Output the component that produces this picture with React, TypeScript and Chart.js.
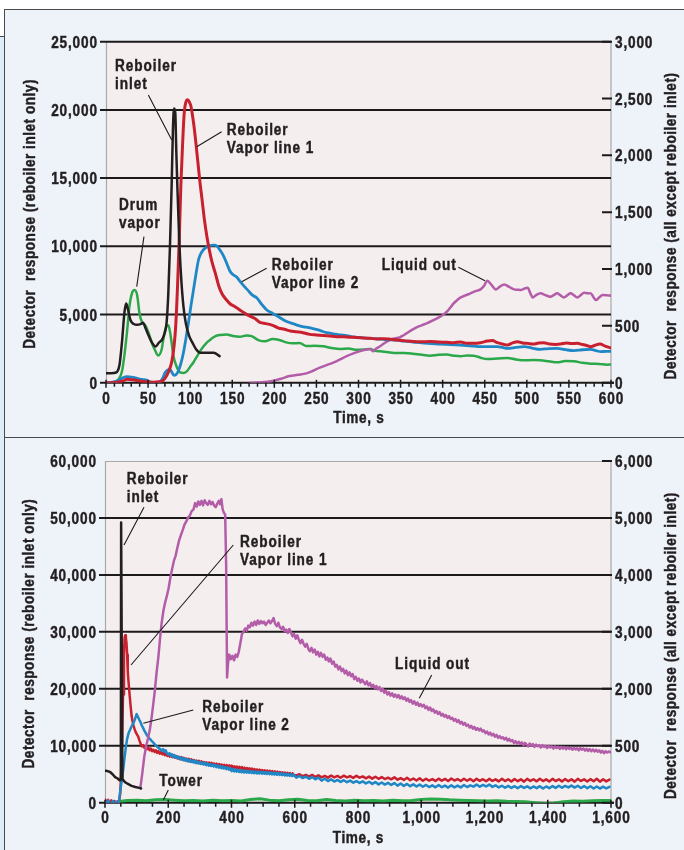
import React, { useEffect, useRef } from 'react';
import { Chart, registerables } from 'chart.js';

Chart.register(...registerables);

const FONT = "'Liberation Sans', Arial, sans-serif";
const SQUEEZE = 0.85; // horizontal compression to mimic a condensed bold face
const INK = '#231f20';
const PAGE_BG = '#eef3fa';
const PLOT_BG = '#f5eeee';
const C_BLACK = '#231f20';
const C_RED = '#c8202e';
const C_BLUE = '#1f87c6';
const C_GREEN = '#2ba84a';
const C_MAGENTA = '#b35ca8';

type Pt = [number, number];

// ---------------- Top panel data (time s, response) ----------------
// Reboiler inlet: left axis units
const topInlet: Pt[] = [
  [0, 700], [6, 700], [12, 750], [16, 1300], [19, 3000], [22, 5200], [24, 5800], [26, 5400], [29, 4600],
  [33, 4300], [37, 4250], [41, 4300], [44, 4400], [47, 4000], [51, 3400], [55, 2900], [59, 2650], [63, 2950],
  [67, 3200], [70, 3700], [72, 4400], [74, 6500], [76, 10000], [78, 14500], [79.5, 18500], [80.8, 20100],
  [82.3, 19800], [83.5, 17000], [85, 14000], [87, 10500], [89, 8000], [92, 5600], [95, 4300], [99, 3400],
  [103, 2900], [107, 2450], [112, 2200], [120, 2200], [128, 2200], [135, 1950],
];
// Other series: right axis units
const topDrum: Pt[] = [
  [0, 0], [9, 5], [15, 30], [19, 100], [22, 250], [25, 450], [28, 680], [31, 790], [34, 815], [37, 770],
  [40, 600], [43, 530], [47, 500], [51, 430], [55, 340], [58, 290], [62, 240], [66, 290], [69, 420], [72, 500],
  [74, 505], [76, 450], [78, 350], [80, 240], [84, 140], [88, 90], [92, 85], [96, 100], [100, 140], [104, 180],
  [108, 230], [112, 280], [116, 320], [120, 355], [125, 385], [130, 410], [136, 420], [143, 425], [151, 410],
  [159, 405], [167, 415], [173, 410], [181, 375], [189, 364], [198, 384], [206, 375], [214, 355], [222, 347],
  [230, 349], [238, 322], [248, 325], [258, 320], [268, 305], [278, 296], [288, 300], [298, 290], [306, 292],
  [314, 296], [320, 280], [326, 276], [335, 268], [345, 261], [355, 262], [365, 255], [375, 245], [385, 238],
  [395, 245], [405, 247], [413, 238], [421, 232], [429, 240], [437, 238], [445, 220], [453, 208], [465, 212],
  [477, 217], [487, 205], [497, 197], [507, 200], [516, 197], [526, 188], [536, 179], [546, 190], [556, 188],
  [566, 175], [576, 167], [586, 165], [595, 158], [600, 160],
];
const topVapor1: Pt[] = [
  [0, 0], [10, 2], [20, 15], [25, 30], [32, 25], [40, 15], [48, 8], [56, 5], [63, 8], [68, 20], [72, 60],
  [75, 110], [78, 180], [81, 330], [83, 520], [85, 850], [87, 1260], [89, 1750], [91, 2100], [93, 2380],
  [95, 2470], [97, 2490], [99, 2470], [101, 2430], [103, 2340], [105, 2230], [107.5, 2060], [110, 1880],
  [112, 1740], [114, 1620], [117, 1430], [120, 1280], [123, 1160], [126, 1060], [130, 960], [134, 850],
  [138, 780], [143, 730], [148, 690], [153, 670], [159, 640], [165, 610], [171, 585], [177, 565], [183, 530],
  [190, 520], [198, 505], [205, 480], [212, 470], [219, 455], [226, 448], [234, 440], [242, 425], [250, 420],
  [258, 415], [266, 410], [274, 405], [282, 405], [290, 400], [298, 398], [306, 393], [314, 390], [322, 385],
  [330, 387], [338, 382], [346, 375], [356, 368], [365, 362], [375, 360], [385, 362], [395, 358], [405, 355],
  [413, 352], [421, 358], [429, 346], [437, 346], [445, 352], [453, 366], [459, 372], [465, 352], [471, 340],
  [477, 331], [483, 350], [489, 361], [495, 350], [501, 346], [508, 340], [514, 350], [520, 352], [527, 340],
  [534, 337], [540, 340], [547, 350], [553, 344], [560, 346], [566, 336], [572, 325], [576, 317], [581, 330],
  [587, 340], [593, 322], [600, 305],
];
const topVapor2: Pt[] = [
  [0, 0], [8, 5], [13, 15], [18, 35], [24, 53], [28, 52], [32, 47], [36, 40], [40, 32], [44, 28], [48, 23],
  [51, 10], [54, 2], [60, 3], [64, 8], [67, 35], [70, 85], [73, 110], [76, 117], [78, 95], [80.8, 64], [83, 70],
  [86, 103], [89, 170], [92, 264], [95, 390], [98, 530], [101, 680], [104, 820], [107, 960], [110, 1084],
  [113, 1140], [116, 1172], [120, 1195], [124, 1207], [128, 1210], [132, 1200], [136, 1160], [140, 1110],
  [144, 1040], [147, 985], [151, 950], [155, 932], [159, 894], [164, 850], [169, 810], [174, 770], [179, 747],
  [185, 690], [191, 640], [198, 610], [205, 580], [214, 540], [222, 520], [230, 500], [238, 488], [246, 475],
  [254, 460], [262, 440], [270, 430], [278, 420], [286, 415], [294, 402], [302, 398], [310, 392], [318, 388],
  [326, 384], [335, 378], [345, 374], [355, 365], [365, 358], [375, 350], [387, 345], [397, 340], [409, 336],
  [421, 331], [433, 325], [445, 317], [455, 318], [465, 317], [471, 310], [477, 302], [487, 310], [497, 317],
  [506, 305], [516, 293], [526, 300], [536, 302], [546, 290], [556, 282], [566, 290], [576, 293], [582, 283],
  [588, 273], [594, 276], [600, 275],
];
const topLiquid: Pt[] = [
  [171, 0], [185, 3], [198, 15], [208, 35], [218, 59], [228, 70], [238, 82], [246, 105], [254, 132], [262, 155],
  [270, 176], [278, 205], [286, 234], [294, 258], [302, 278], [308, 290], [313.7, 296], [317.7, 276], [321, 300],
  [325.6, 320], [331, 350], [337.5, 378], [343, 390], [349, 399], [353, 415], [357, 434], [363, 462], [369, 487],
  [375, 505], [381, 522], [389, 550], [397, 581], [401, 600], [405, 625], [409, 660], [413, 698], [417, 725],
  [421, 748], [427, 768], [433, 786], [439, 805], [445, 821], [449, 850], [453, 897], [458, 860], [463, 821],
  [468, 845], [473, 865], [479, 843], [485, 821], [489, 818], [493, 815], [497, 828], [501, 835], [504, 790],
  [507, 750], [511, 770], [516, 786], [522, 771], [528, 756], [532, 771], [536, 786], [540, 768], [544, 750],
  [548, 768], [552, 786], [556, 768], [560, 750], [564, 770], [568, 791], [572, 788], [576, 786], [579, 755],
  [582, 727], [586, 750], [590, 771], [595, 770], [600, 765],
];

// ---------------- Bottom panel data ----------------
const botInlet: Pt[] = [
  [0, 5600], [8, 5550], [16, 5400], [24, 5000], [32, 4500], [40, 4250], [46, 3950], [50, 4000], [51, 49200],
  [53, 49200], [55, 4200], [60, 3800], [66, 3500], [74, 3250], [84, 2950], [96, 2750], [108, 2600], [114, 2500],
];
const botVapor1: Pt[] = [
  [0, 60], [5, 10], [10, 50], [15, -20], [20, 40], [25, 0], [30, 30], [35, -30], [40, 20], [45, 40], [48, 150],
  [51, 500], [54, 1100], [57, 1900], [60, 2600], [62, 2900], [64, 2940], [66, 2900], [68, 2800], [70, 2600],
  [72, 2300], [75, 2080], [78, 1880], [81, 1700], [84, 1530], [87, 1430], [90, 1360], [93, 1300], [97, 1240],
  [101, 1200], [105, 1160], [109, 1090], [113, 1030], [117, 990], [121, 1010], [125, 960], [129, 990], [133, 940],
  [137, 970], [141, 920], [145, 950], [149, 905], [153, 930], [157, 890], [161, 920], [165, 875], [169, 905],
  [173, 860], [177, 895], [181, 850], [185, 880], [189, 835], [193, 865], [197, 820], [201, 850], [205, 810],
  [209, 845], [213, 800], [217, 830], [221, 790], [225, 820], [229, 775], [233, 805], [237, 765], [241, 800],
  [245, 755], [249, 790], [253, 745], [257, 775], [261, 735], [265, 770], [269, 725], [273, 760], [277, 720],
  [281, 750], [285, 710], [289, 740], [293, 700], [297, 735], [301, 690], [305, 725], [309, 685], [313, 715],
  [317, 680], [321, 710], [325, 670], [329, 705], [333, 665], [337, 700], [341, 660], [345, 690], [349, 650],
  [353, 685], [357, 645], [361, 680], [365, 640], [369, 670], [373, 635], [377, 665], [381, 625], [385, 660],
  [389, 620], [393, 655], [397, 615], [401, 650], [405, 610], [409, 640], [413, 605], [417, 635], [421, 595],
  [425, 630], [429, 590], [433, 625], [437, 585], [441, 615], [445, 580], [449, 610], [453, 570], [457, 605],
  [461, 565], [465, 600], [469, 560], [473, 590], [477, 555], [481, 585], [485, 550], [489, 580], [493, 545],
  [497, 575], [501, 540], [505, 570], [509, 535], [513, 565], [517, 530], [521, 560], [525, 525], [529, 555],
  [533, 520], [537, 550], [541, 515], [545, 545], [549, 510], [553, 540], [557, 505], [561, 535], [565, 500],
  [569, 530], [573, 495], [577, 525], [581, 490], [585, 520], [589, 485], [593, 515], [597, 480], [605, 480],
  [615, 500], [625, 468], [635, 490], [645, 460], [655, 488], [665, 452], [675, 480], [685, 445], [695, 470],
  [705, 440], [715, 478], [725, 446], [735, 470], [745, 438], [755, 475], [765, 444], [775, 468], [785, 436],
  [795, 472], [805, 440], [815, 462], [825, 428], [835, 458], [845, 422], [855, 455], [865, 420], [875, 450],
  [885, 415], [895, 440], [905, 410], [915, 445], [925, 405], [935, 432], [945, 400], [955, 438], [965, 396],
  [975, 425], [985, 390], [995, 428], [1005, 385], [1015, 420], [1025, 388], [1035, 415], [1045, 382],
  [1055, 422], [1065, 386], [1075, 418], [1085, 380], [1095, 425], [1105, 390], [1115, 415], [1125, 380],
  [1135, 420], [1145, 385], [1155, 418], [1165, 378], [1175, 420], [1185, 384], [1195, 412], [1205, 376],
  [1215, 418], [1225, 382], [1235, 410], [1245, 374], [1255, 420], [1265, 380], [1275, 412], [1285, 372],
  [1295, 415], [1305, 378], [1315, 410], [1325, 370], [1335, 418], [1345, 382], [1355, 412], [1365, 375],
  [1375, 420], [1385, 380], [1395, 410], [1405, 372], [1415, 418], [1425, 380], [1435, 412], [1445, 374],
  [1455, 416], [1465, 378], [1475, 410], [1485, 370], [1495, 418], [1505, 382], [1515, 410], [1525, 372],
  [1535, 414], [1545, 376], [1555, 420], [1565, 370], [1575, 412], [1585, 374], [1595, 405],
];
const botVapor2: Pt[] = [
  [0, 20], [5, -30], [10, 40], [15, -10], [20, -40], [25, 30], [30, -50], [35, 20], [40, -40], [44, 10], [47, 150],
  [50, 280], [54, 420], [58, 600], [62, 800], [66, 980], [70, 1120], [75, 1230], [80, 1290], [85, 1350],
  [90, 1400], [95, 1470], [100, 1556], [104, 1510], [108, 1460], [112, 1420], [116, 1360], [120, 1320],
  [124, 1270], [128, 1230], [132, 1190], [136, 1160], [140, 1130], [144, 1110], [148, 1080], [152, 1060],
  [156, 1030], [160, 1010], [164, 990], [168, 965], [172, 950], [176, 935], [180, 910], [184, 940], [188, 895],
  [192, 920], [196, 860], [200, 845], [204, 870], [208, 825], [212, 850], [216, 805], [220, 835], [224, 790],
  [228, 815], [232, 775], [236, 800], [240, 760], [244, 790], [248, 745], [252, 775], [256, 735], [260, 765],
  [264, 725], [268, 755], [272, 715], [276, 745], [280, 705], [284, 735], [288, 695], [292, 725], [296, 690],
  [300, 715], [304, 680], [308, 705], [312, 670], [316, 700], [320, 660], [324, 690], [328, 650], [332, 680],
  [336, 645], [340, 670], [344, 635], [348, 665], [352, 625], [356, 655], [360, 615], [364, 645], [368, 605],
  [372, 635], [376, 600], [380, 625], [384, 590], [388, 620], [392, 580], [396, 610], [400, 555], [404, 590],
  [408, 550], [412, 585], [416, 545], [420, 578], [424, 540], [428, 572], [432, 535], [436, 566], [440, 530],
  [444, 562], [448, 528], [452, 558], [456, 525], [460, 556], [464, 522], [468, 552], [472, 518], [476, 548],
  [480, 515], [484, 546], [488, 512], [492, 542], [496, 510], [500, 540], [504, 508], [508, 538], [512, 505],
  [516, 535], [520, 502], [524, 532], [528, 498], [532, 528], [536, 495], [540, 525], [544, 492], [548, 520],
  [552, 488], [556, 518], [560, 485], [564, 512], [568, 480], [572, 508], [576, 476], [580, 505], [584, 472],
  [588, 500], [592, 468], [596, 496], [605, 440], [615, 470], [625, 432], [635, 458], [645, 420], [655, 450],
  [665, 410], [675, 440], [685, 388], [695, 420], [705, 380], [715, 410], [725, 372], [735, 400], [745, 365],
  [755, 395], [765, 360], [775, 388], [785, 352], [795, 380], [805, 348], [815, 375], [825, 338], [835, 368],
  [845, 330], [855, 362], [865, 322], [875, 355], [885, 318], [895, 348], [905, 312], [915, 345], [925, 300],
  [935, 338], [945, 295], [955, 330], [965, 290], [975, 322], [985, 285], [995, 318], [1005, 280], [1015, 312],
  [1025, 275], [1035, 305], [1045, 270], [1055, 310], [1065, 272], [1075, 300], [1085, 265], [1095, 305],
  [1105, 270], [1115, 300], [1125, 268], [1135, 312], [1145, 275], [1155, 305], [1165, 282], [1175, 318],
  [1185, 280], [1195, 312], [1205, 285], [1215, 318], [1225, 278], [1235, 305], [1245, 268], [1255, 298],
  [1265, 262], [1275, 295], [1285, 258], [1295, 290], [1305, 255], [1315, 292], [1325, 260], [1335, 288],
  [1345, 252], [1355, 285], [1365, 256], [1375, 290], [1385, 250], [1395, 285], [1405, 255], [1415, 292],
  [1425, 260], [1435, 298], [1445, 262], [1455, 295], [1465, 268], [1475, 300], [1485, 265], [1495, 298],
  [1505, 258], [1515, 292], [1525, 255], [1535, 288], [1545, 250], [1555, 285], [1565, 248], [1575, 282],
  [1585, 250], [1595, 278],
];
const botLiquid: Pt[] = [
  [112, 270], [118, 520], [124, 800], [130, 990], [136, 1130], [142, 1290], [147, 1480], [152, 1700], [158, 1990],
  [163, 2280], [169, 2570], [174, 2880], [179, 3150], [185, 3380], [190, 3510], [196, 3640], [201, 3760],
  [207, 3960], [212, 4100], [218, 4250], [223, 4330], [229, 4480], [234, 4600], [240, 4700], [246, 4790],
  [251, 4880], [257, 4940], [263, 5010], [268, 5040], [274, 5120], [280, 5150], [285, 5260], [290, 5200],
  [295, 5290], [300, 5230], [305, 5300], [310, 5220], [315, 5310], [320, 5260], [325, 5230], [330, 5300],
  [335, 5240], [340, 5280], [345, 5220], [350, 5190], [355, 5250], [360, 5300], [364, 5240], [368, 5330],
  [372, 5150], [376, 5090], [380, 5060], [383, 4200], [386, 2200], [389, 2450], [393, 2600], [398, 2520],
  [403, 2580], [408, 2500], [413, 2600], [418, 2560], [423, 2650], [428, 2800], [433, 2960], [438, 3000],
  [443, 3060], [448, 3020], [453, 3110], [458, 3080], [463, 3160], [468, 3110], [473, 3180], [478, 3120],
  [483, 3200], [488, 3140], [493, 3190], [498, 3150], [503, 3180], [508, 3120], [513, 3160], [518, 3200],
  [523, 3150], [528, 3190], [533, 3240], [538, 3140], [543, 3100], [548, 3160], [553, 3080], [558, 3050],
  [563, 3090], [568, 3010], [573, 3040], [578, 2980], [583, 3050], [588, 2990], [593, 2920], [598, 2960],
  [603, 2880], [608, 2940], [613, 2860], [618, 2800], [623, 2860], [628, 2790], [633, 2740], [638, 2790],
  [643, 2700], [648, 2660], [653, 2720], [658, 2640], [663, 2690], [668, 2600], [673, 2650], [678, 2570],
  [683, 2630], [688, 2560], [693, 2600], [698, 2510], [703, 2550], [708, 2480], [713, 2530], [718, 2440],
  [723, 2480], [728, 2390], [733, 2420], [738, 2340], [743, 2390], [748, 2310], [753, 2350], [758, 2270],
  [763, 2320], [768, 2240], [773, 2290], [778, 2220], [783, 2260], [788, 2170], [793, 2210], [798, 2140],
  [803, 2180], [808, 2110], [813, 2160], [818, 2120], [823, 2080], [828, 2130], [833, 2060], [838, 2100],
  [843, 2030], [848, 2070], [853, 2010], [858, 2050], [863, 1990], [868, 2030], [873, 1960], [878, 2000],
  [883, 1930], [888, 1970], [893, 1900], [898, 1940], [903, 1880], [908, 1920], [913, 1860], [918, 1900],
  [923, 1850], [928, 1890], [933, 1830], [938, 1870], [943, 1820], [948, 1850], [953, 1790], [958, 1830],
  [963, 1770], [968, 1800], [973, 1740], [978, 1780], [983, 1720], [988, 1760], [993, 1700], [998, 1730],
  [1003, 1690], [1008, 1720], [1013, 1660], [1018, 1690], [1023, 1630], [1028, 1670], [1033, 1610], [1038, 1640],
  [1043, 1580], [1048, 1610], [1053, 1560], [1058, 1590], [1063, 1530], [1068, 1560], [1073, 1510], [1078, 1540],
  [1083, 1490], [1088, 1520], [1093, 1470], [1098, 1490], [1103, 1440], [1108, 1470], [1113, 1420], [1118, 1450],
  [1123, 1390], [1128, 1420], [1133, 1370], [1138, 1400], [1143, 1350], [1148, 1370], [1153, 1320], [1158, 1350],
  [1163, 1300], [1168, 1330], [1173, 1280], [1178, 1310], [1183, 1270], [1188, 1300], [1193, 1250], [1198, 1270],
  [1203, 1220], [1208, 1250], [1213, 1200], [1218, 1230], [1223, 1180], [1228, 1210], [1233, 1160], [1238, 1190],
  [1243, 1140], [1248, 1170], [1253, 1130], [1258, 1150], [1263, 1110], [1268, 1140], [1273, 1090], [1278, 1120],
  [1283, 1080], [1288, 1100], [1293, 1050], [1298, 1080], [1303, 1040], [1308, 1070], [1313, 1030], [1318, 1060],
  [1323, 1010], [1328, 1050], [1333, 1020], [1338, 990], [1343, 1040], [1348, 1000], [1353, 1030], [1358, 980],
  [1363, 1020], [1368, 990], [1373, 1010], [1378, 970], [1383, 1010], [1388, 980], [1393, 1000], [1398, 960],
  [1403, 1000], [1408, 970], [1413, 990], [1418, 950], [1423, 990], [1428, 960], [1433, 985], [1438, 945],
  [1443, 980], [1448, 950], [1453, 975], [1458, 940], [1463, 970], [1468, 945], [1473, 965], [1478, 930],
  [1483, 965], [1488, 935], [1493, 955], [1498, 920], [1503, 960], [1508, 930], [1513, 950], [1518, 915],
  [1523, 945], [1528, 910], [1533, 940], [1538, 905], [1543, 935], [1548, 900], [1553, 930], [1558, 895],
  [1563, 920], [1568, 880], [1573, 910], [1578, 870], [1583, 905], [1588, 880], [1593, 900], [1598, 885],
];
const botTower: Pt[] = [
  [45, 20], [70, 40], [100, 45], [130, 35], [160, 50], [190, 55], [220, 45], [250, 35], [280, 40], [310, 30],
  [340, 45], [370, 35], [400, 40], [430, 30], [460, 55], [490, 70], [520, 45], [550, 35], [580, 50], [610, 60],
  [640, 40], [670, 35], [700, 55], [730, 40], [760, 30], [790, 45], [820, 35], [850, 40], [880, 30], [910, 45],
  [940, 35], [970, 40], [1000, 55], [1030, 65], [1060, 60], [1090, 50], [1120, 45], [1150, 40], [1180, 35],
  [1210, 30], [1240, 35], [1270, 25], [1300, 20], [1330, 15], [1360, 0], [1390, -15], [1420, -5], [1450, 15],
  [1480, 30], [1510, 25], [1540, 35], [1570, 40], [1600, 40],
];

// ---------------- Axis ticks ----------------
const topXTickValues = [0, 50, 100, 150, 200, 250, 300, 350, 400, 450, 500, 550, 600];
const topLeftTickValues = [0, 5000, 10000, 15000, 20000, 25000];
const topLeftGrid = [5000, 10000, 15000, 20000, 25000];
const topRightTickValues = [0, 500, 1000, 1500, 2000, 2500, 3000];
const botXTickValues = [0, 200, 400, 600, 800, 1000, 1200, 1400, 1600];
const botLeftTickValues = [0, 10000, 20000, 30000, 40000, 50000, 60000];
const botLeftGrid = [10000, 20000, 30000, 40000, 50000];
const botRightTickValues = [0, 1000, 2000, 3000, 4000, 5000, 6000];
const botRightTickLabels = ['0', '500', '2,000', '3,000', '4,000', '5,000', '6,000'];

type Note = { lines: string[]; t: number; v: number; from: Pt; to: Pt };
const topNotes: Note[] = [
  { lines: ['Reboiler', 'inlet'], t: 10.7, v: 22874, from: [50.3, 21093], to: [78.1, 17794] },
  { lines: ['Reboiler', 'Vapor line 1'], t: 143.4, v: 18160, from: [137.4, 18402], to: [107.8, 17302] },
  { lines: ['Drum', 'vapor'], t: 15.4, v: 12661, from: [45.1, 10704], to: [36.5, 7038] },
  { lines: ['Reboiler', 'Vapor line 2'], t: 196.9, v: 8263, from: [190.9, 8387], to: [161.2, 7405] },
  { lines: ['Liquid out'], t: 327.5, v: 8263, from: [418.6, 8460], to: [450.3, 7478] },
];
const botNotes: Note[] = [
  { lines: ['Reboiler', 'inlet'], t: 68.6, v: 55962, from: [123.3, 51870], to: [60.1, 45250] },
  { lines: ['Reboiler', 'Vapor line 1'], t: 426.9, v: 44952, from: [405.7, 45250], to: [82.2, 24179] },
  { lines: ['Reboiler', 'Vapor line 2'], t: 307.7, v: 15979, from: [279.2, 16277], to: [121.1, 13942] },
  { lines: ['Tower'], t: 171.7, v: 2932, from: [200.2, 2230], to: [184.4, 474] },
  { lines: ['Liquid out'], t: 917, v: 23424, from: [1033, 22423], to: [993.8, 18332] },
];

const LEFT_TITLE = 'Detector  response (reboiler inlet only)';
const RIGHT_TITLE = 'Detector  response (all except reboiler inlet)';
const X_TITLE = 'Time, s';

type Series = { label: string; points: Pt[]; color: string; width: number; axis: 'y' | 'y1' };
type Panel = {
  series: Series[];
  smooth: boolean;
  xMax: number; xStep: number; xMinor: number; xTicks: number[];
  leftMax: number; leftTicks: number[]; rightMax: number;
  leftGrid: number[]; rightTicks: number[]; rightLabels?: string[];
  notes: Note[];
  padTop: number; leftW: number; rightW: number; xH: number; xLabelDrop: number;
  topBorder: boolean;
};

const fmt = (v: number) => Number(v).toLocaleString('en-US');

function squeezedText(ctx: CanvasRenderingContext2D, s: string, x: number, y: number, align: CanvasTextAlign, spacing: number) {
  ctx.save();
  ctx.translate(x, y);
  ctx.scale(SQUEEZE, 1);
  ctx.letterSpacing = `${spacing}px`;
  ctx.textAlign = align;
  const shift = align === 'right' ? spacing : align === 'center' ? spacing / 2 : 0;
  ctx.fillText(s, shift, 0);
  ctx.lineWidth = 0.45;
  ctx.strokeStyle = INK;
  ctx.strokeText(s, shift, 0);
  ctx.restore();
}

function panelPlugin(p: Panel) {
  return {
    id: 'panelDecor',
    beforeDraw(chart: any) {
      const { ctx, chartArea: a } = chart;
      ctx.save();
      ctx.fillStyle = PLOT_BG;
      ctx.fillRect(a.left, a.top, a.right - a.left, a.bottom - a.top);
      ctx.restore();
    },
    beforeDatasetsDraw(chart: any) {
      const { ctx, chartArea: a } = chart;
      const y = chart.scales.y;
      ctx.save();
      ctx.strokeStyle = '#a9a9ab';
      ctx.lineWidth = 1.2;
      ctx.beginPath();
      ctx.moveTo(a.left + 0.5, a.top); ctx.lineTo(a.left + 0.5, a.bottom);
      ctx.moveTo(a.right, a.top); ctx.lineTo(a.right, a.bottom);
      if (p.topBorder) { ctx.moveTo(a.left, a.top + 0.5); ctx.lineTo(a.right, a.top + 0.5); }
      ctx.stroke();
      ctx.strokeStyle = '#1c1a1b';
      ctx.lineWidth = 2;
      ctx.beginPath();
      for (const v of p.leftGrid) {
        const py = y.getPixelForValue(v);
        ctx.moveTo(a.left - 6, py); ctx.lineTo(a.right, py);
      }
      const y0 = y.getPixelForValue(0);
      ctx.moveTo(a.left - 6, y0); ctx.lineTo(a.right + 3, y0);
      ctx.stroke();
      ctx.restore();
    },
    afterDraw(chart: any) {
      const { ctx, chartArea: a } = chart;
      const x = chart.scales.x, y = chart.scales.y, y1 = chart.scales.y1;
      const y0 = y.getPixelForValue(0);
      ctx.save();
      ctx.strokeStyle = '#1c1a1b';
      ctx.lineWidth = 1.5;
      ctx.beginPath();
      for (let t = 0; t <= p.xMax + 0.001; t += p.xMinor) {
        const px = x.getPixelForValue(t);
        const major = Math.abs(t / p.xStep - Math.round(t / p.xStep)) < 1e-6;
        ctx.moveTo(px, major ? y0 - 3 : y0);
        ctx.lineTo(px, major ? y0 + 5 : y0 + 4);
      }
      ctx.stroke();
      ctx.lineWidth = 2;
      ctx.beginPath();
      for (const v of p.rightTicks) {
        const py = y1.getPixelForValue(v);
        ctx.moveTo(a.right - 9, py); ctx.lineTo(a.right + (v === 0 ? 3 : 1), py);
      }
      ctx.stroke();
      // leader lines
      ctx.lineWidth = 1.1;
      ctx.beginPath();
      for (const n of p.notes) {
        ctx.moveTo(x.getPixelForValue(n.from[0]), y.getPixelForValue(n.from[1]));
        ctx.lineTo(x.getPixelForValue(n.to[0]), y.getPixelForValue(n.to[1]));
      }
      ctx.stroke();

      ctx.fillStyle = INK;
      ctx.font = `bold 16px ${FONT}`;
      ctx.textBaseline = 'alphabetic';
      // tick labels
      for (const v of p.leftTicks) {
        squeezedText(ctx, fmt(v), a.left - 9, y.getPixelForValue(v) + 6, 'right', 1);
      }
      p.rightTicks.forEach((v, i) => {
        const s = p.rightLabels ? p.rightLabels[i] : fmt(v);
        squeezedText(ctx, s, a.right + 4, y1.getPixelForValue(v) + 6, 'left', 1);
      });
      for (const t of p.xTicks) {
        squeezedText(ctx, fmt(t), x.getPixelForValue(t), y0 + p.xLabelDrop, 'center', 1);
      }
      // annotations
      for (const n of p.notes) {
        const px = x.getPixelForValue(n.t);
        const py = y.getPixelForValue(n.v);
        n.lines.forEach((s, i) => squeezedText(ctx, s, px, py + i * 18.3, 'left', 1.1));
      }
      // axis titles
      squeezedText(ctx, X_TITLE, (a.left + a.right) / 2, a.bottom + 40.6, 'center', 0.8);
      const cy = (a.top + a.bottom) / 2;
      ctx.textBaseline = 'middle';
      ctx.save();
      ctx.translate(a.left - 75.5, cy + 2);
      ctx.rotate(-Math.PI / 2);
      squeezedText(ctx, LEFT_TITLE, 0, 0, 'center', 0.6);
      ctx.restore();
      ctx.save();
      ctx.translate(a.right + 61, cy + 14);
      ctx.rotate(-Math.PI / 2);
      squeezedText(ctx, RIGHT_TITLE, 0, 0, 'center', 0.6);
      ctx.restore();
      ctx.restore();
    },
  };
}

function buildConfig(p: Panel): any {
  const hidden = { display: false };
  return {
    type: 'line',
    data: {
      datasets: p.series.map((s) => ({
        label: s.label,
        data: s.points.map(([t, v]) => ({ x: t, y: v })),
        borderColor: s.color,
        borderWidth: s.width,
        pointRadius: 0,
        fill: false,
        yAxisID: s.axis,
        tension: p.smooth ? 0.4 : 0,
        cubicInterpolationMode: p.smooth ? 'monotone' : 'default',
        borderJoinStyle: 'round',
        borderCapStyle: 'round',
      })),
    },
    options: {
      responsive: false,
      animation: false,
      devicePixelRatio: 1,
      events: [],
      layout: { padding: { top: p.padTop, left: 0, right: 0, bottom: 0 } },
      plugins: { legend: { display: false }, tooltip: { enabled: false } },
      scales: {
        x: {
          type: 'linear', min: 0, max: p.xMax,
          afterFit: (s: any) => { s.height = p.xH; },
          grid: { display: false, drawTicks: false }, border: hidden, ticks: hidden,
        },
        y: {
          type: 'linear', position: 'left', min: 0, max: p.leftMax,
          afterFit: (s: any) => { s.width = p.leftW; },
          grid: { display: false, drawTicks: false }, border: hidden, ticks: hidden,
        },
        y1: {
          type: 'linear', position: 'right', min: 0, max: p.rightMax,
          afterFit: (s: any) => { s.width = p.rightW; },
          grid: { display: false, drawTicks: false }, border: hidden, ticks: hidden,
        },
      },
    },
    plugins: [panelPlugin(p)],
  };
}

const topPanel: Panel = {
  series: [
    { label: 'Reboiler inlet', points: topInlet, color: C_BLACK, width: 2.5, axis: 'y' },
    { label: 'Reboiler Vapor line 1', points: topVapor1, color: C_RED, width: 3, axis: 'y1' },
    { label: 'Reboiler Vapor line 2', points: topVapor2, color: C_BLUE, width: 2.8, axis: 'y1' },
    { label: 'Liquid out', points: topLiquid, color: C_MAGENTA, width: 2.5, axis: 'y1' },
    { label: 'Drum vapor', points: topDrum, color: C_GREEN, width: 2.5, axis: 'y1' },
  ],
  smooth: true,
  xMax: 600, xStep: 50, xMinor: 10, xTicks: topXTickValues,
  leftMax: 25000, leftTicks: topLeftTickValues, rightMax: 3000,
  leftGrid: topLeftGrid, rightTicks: topRightTickValues,
  notes: topNotes,
  padTop: 31.7, leftW: 101, rightW: 73, xH: 54.3, xLabelDrop: 21.6,
  topBorder: false,
};

const botPanel: Panel = {
  series: [
    { label: 'Reboiler inlet', points: botInlet, color: C_BLACK, width: 2.5, axis: 'y' },
    { label: 'Liquid out', points: botLiquid, color: C_MAGENTA, width: 2.5, axis: 'y1' },
    { label: 'Reboiler Vapor line 2', points: botVapor2, color: C_BLUE, width: 2.5, axis: 'y1' },
    { label: 'Reboiler Vapor line 1', points: botVapor1, color: C_RED, width: 2.5, axis: 'y1' },
    { label: 'Tower', points: botTower, color: C_GREEN, width: 3, axis: 'y1' },
  ],
  smooth: false,
  xMax: 1600, xStep: 200, xMinor: 50, xTicks: botXTickValues,
  leftMax: 60000, leftTicks: botLeftTickValues, rightMax: 6000,
  leftGrid: botLeftGrid, rightTicks: botRightTickValues, rightLabels: botRightTickLabels,
  notes: botNotes,
  padTop: 23, leftW: 100, rightW: 73, xH: 47.3, xLabelDrop: 20.6,
  topBorder: true,
};

export default function App() {
  const topRef = useRef<HTMLCanvasElement>(null);
  const botRef = useRef<HTMLCanvasElement>(null);
  useEffect(() => {
    const c1 = new Chart(topRef.current as HTMLCanvasElement, buildConfig(topPanel));
    const c2 = new Chart(botRef.current as HTMLCanvasElement, buildConfig(botPanel));
    return () => { c1.destroy(); c2.destroy(); };
  }, []);
  const line = '1.5px solid #4a4a4c';
  return (
    <div style={{ position: 'fixed', left: 0, top: 0, width: 684, height: 850, background: '#ffffff', overflow: 'hidden' }}>
      <div style={{ position: 'absolute', left: 0, top: 36, width: 4, height: 814, background: '#dcedf8', borderTop: line }} />
      <div style={{ position: 'absolute', left: 4, top: 9, width: 680, height: 428, background: PAGE_BG, borderTop: line, borderLeft: line, boxSizing: 'border-box' }} />
      <div style={{ position: 'absolute', left: 4, top: 437, width: 680, height: 413, background: PAGE_BG, borderTop: line, borderLeft: line, boxSizing: 'border-box' }} />
      <canvas ref={topRef} width={679} height={427} style={{ position: 'absolute', left: 5, top: 10, width: 679, height: 427 }} />
      <canvas ref={botRef} width={679} height={412} style={{ position: 'absolute', left: 5, top: 438, width: 679, height: 412 }} />
    </div>
  );
}
